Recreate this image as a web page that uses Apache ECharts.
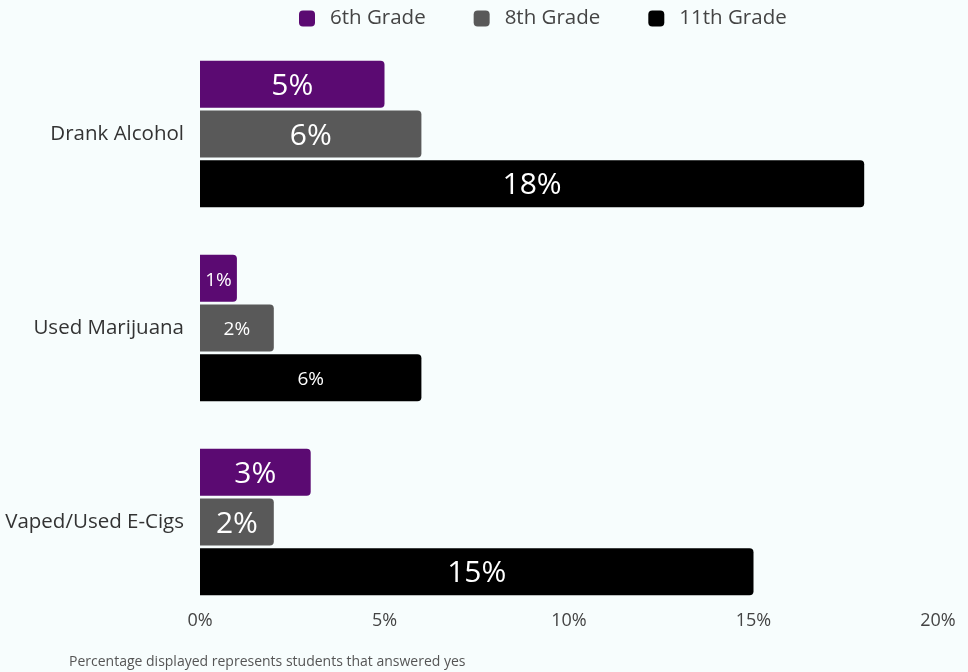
<!DOCTYPE html>
<html><head><meta charset="utf-8">
<script src="https://cdn.jsdelivr.net/npm/echarts@6/dist/echarts.min.js"></script>
<style>html,body{margin:0;padding:0;background:#f7fdfd}#c{width:968px;height:672px}</style>
</head><body><div id="c"></div>
<script>
const categories = ['Drank Alcohol', 'Used Marijuana', 'Vaped/Used E-Cigs'];
const seriesNames = ['6th Grade', '8th Grade', '11th Grade'];
const grade6 = [5, 1, 3];
const grade8 = [6, 2, 2];
const grade11 = [18, 6, 15];
const xTicks = [0, 5, 10, 15, 20];
const footnote = 'Percentage displayed represents students that answered yes';

const colors = ['#5b0a72', '#595959', '#000000'];
const labelSizes = [30, 19, 30];
const FONT = '"Open Sans", "Noto Sans", sans-serif';

function mk(name, vals, i) {
  return {
    name: name, type: 'bar', barWidth: 47, barGap: '6%',
    itemStyle: { color: colors[i], borderRadius: [0, 4, 4, 0] },
    data: vals.map((v, k) => ({
      value: v,
      label: { fontSize: labelSizes[k] }
    })),
    label: { show: true, position: 'inside', offset: [0, 2], color: '#ffffff', fontFamily: FONT, formatter: '{c}%' }
  };
}

const chart = echarts.init(document.getElementById('c'));
chart.setOption({
  backgroundColor: '#f7fdfd',
  animation: false,
  textStyle: { fontFamily: FONT },
  legend: {
    top: 3, left: 294, itemWidth: 16, itemHeight: 16, itemGap: 48,
    icon: 'roundRect',
    textStyle: { fontSize: 20.5, color: '#444', fontFamily: FONT, padding: [0, 0, 0, 10] },
    data: seriesNames
  },
  grid: { left: 200, right: 30, top: 37, bottom: 53 },
  xAxis: {
    type: 'value', min: xTicks[0], max: xTicks[xTicks.length - 1], interval: 5,
    axisLine: { show: false }, axisTick: { show: false }, splitLine: { show: false },
    axisLabel: { formatter: '{value}%', fontSize: 18, color: '#444', margin: -7, fontFamily: FONT }
  },
  yAxis: {
    type: 'category', data: categories, inverse: true,
    axisLine: { show: false }, axisTick: { show: false },
    axisLabel: { fontSize: 20.5, color: '#333', margin: 16, fontFamily: FONT }
  },
  graphic: [{
    type: 'text', left: 69, top: 655,
    style: { text: footnote, fontSize: 14, fill: '#555', fontFamily: FONT }
  }],
  series: [mk(seriesNames[0], grade6, 0), mk(seriesNames[1], grade8, 1), mk(seriesNames[2], grade11, 2)]
});
</script></body></html>
